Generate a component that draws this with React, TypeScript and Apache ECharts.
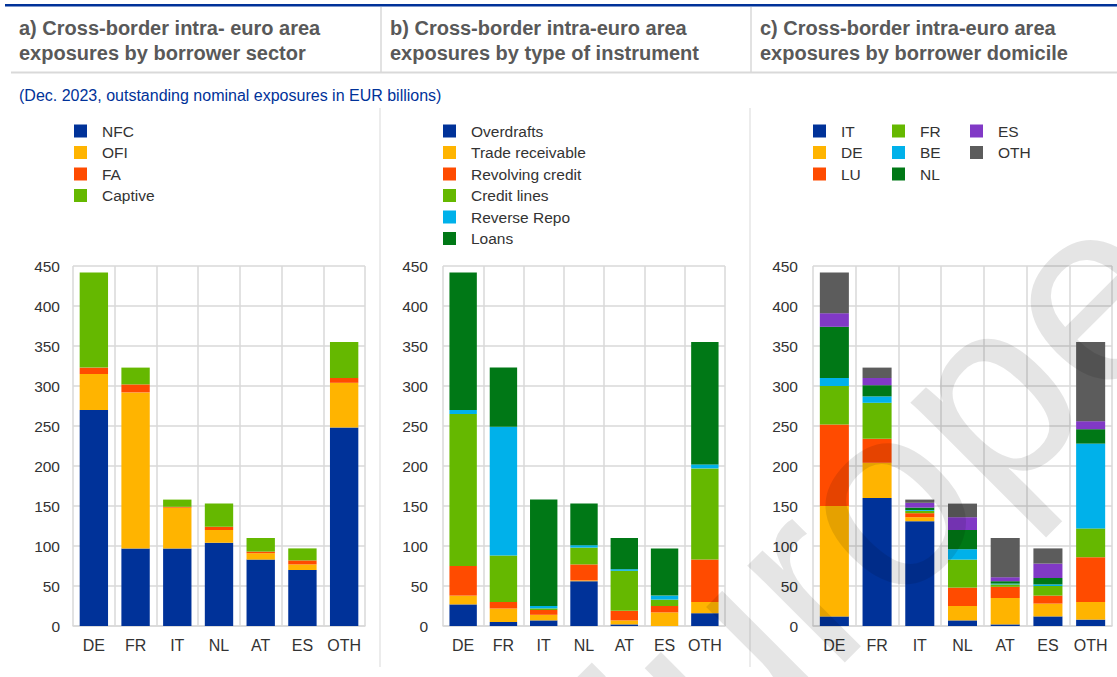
import React, { useEffect, useRef } from 'react';
import * as echarts from 'echarts';

// ---------- data ----------
const categories = ['DE', 'FR', 'IT', 'NL', 'AT', 'ES', 'OTH'];

// a) by borrower sector
const sectorNFC = [270, 97, 97, 104, 83, 70, 248];
const sectorOFI = [45, 195, 51, 16, 8, 7, 56];
const sectorFA = [8, 10, 1, 4, 2, 5, 6];
const sectorCaptive = [119, 21, 9, 29, 17, 15, 45];

// b) by type of instrument
const instOverdrafts = [27, 5, 7, 56, 2, 0, 16];
const instTradeReceivable = [11, 17, 7, 1, 5, 17, 14];
const instRevolving = [37, 8, 6, 20, 12, 8, 53];
const instCreditLines = [190, 58, 2, 21, 50, 8, 114];
const instReverseRepo = [5, 161, 3, 3, 2, 5, 5];
const instLoans = [172, 74, 133, 52, 39, 59, 153];

// c) by borrower domicile
const domIT = [12, 160, 131, 7, 2, 12, 8];
const domDE = [138, 44, 5, 18, 33, 16, 22];
const domLU = [102, 30, 5, 23, 14, 10, 56];
const domFR = [48, 45, 3, 35, 3, 12, 36];
const domBE = [10, 8, 1, 13, 1, 2, 106];
const domNL = [64, 14, 3, 24, 3, 8, 18];
const domES = [17, 9, 6, 16, 5, 18, 10];
const domOTH = [51, 13, 4, 17, 49, 19, 99];

const yMin = 0;
const yMax = 450;
const yStep = 50;

const titles = [
  ['a) Cross-border intra- euro area', 'exposures by borrower sector'],
  ['b) Cross-border intra-euro area', 'exposures by type of instrument'],
  ['c) Cross-border intra-euro area', 'exposures by borrower domicile'],
];
const subtitle = '(Dec. 2023, outstanding nominal exposures in EUR billions)';
const watermark = 'Europe';

// ---------- styles ----------
const FONT = '"Liberation Sans", Arial, Helvetica, sans-serif';
const C = {
  blue: '#003299',
  yellow: '#FFB400',
  red: '#FF4B00',
  lgreen: '#65B800',
  cyan: '#00B1EA',
  dgreen: '#007816',
  purple: '#8139C6',
  grey: '#5C5C5C',
};
const GRID_COLOR = '#d9d9d9';
const TEXT_COLOR = '#333333';

const panelA = [
  { name: 'NFC', data: sectorNFC, color: C.blue },
  { name: 'OFI', data: sectorOFI, color: C.yellow },
  { name: 'FA', data: sectorFA, color: C.red },
  { name: 'Captive', data: sectorCaptive, color: C.lgreen },
];
const panelB = [
  { name: 'Overdrafts', data: instOverdrafts, color: C.blue },
  { name: 'Trade receivable', data: instTradeReceivable, color: C.yellow },
  { name: 'Revolving credit', data: instRevolving, color: C.red },
  { name: 'Credit lines', data: instCreditLines, color: C.lgreen },
  { name: 'Reverse Repo', data: instReverseRepo, color: C.cyan },
  { name: 'Loans', data: instLoans, color: C.dgreen },
];
const panelC = [
  { name: 'IT', data: domIT, color: C.blue },
  { name: 'DE', data: domDE, color: C.yellow },
  { name: 'LU', data: domLU, color: C.red },
  { name: 'FR', data: domFR, color: C.lgreen },
  { name: 'BE', data: domBE, color: C.cyan },
  { name: 'NL', data: domNL, color: C.dgreen },
  { name: 'ES', data: domES, color: C.purple },
  { name: 'OTH', data: domOTH, color: C.grey },
];

const grids = [
  { left: 73, right: 1117 - 365, top: 266, bottom: 677 - 626 },
  { left: 443, right: 1117 - 725, top: 266, bottom: 677 - 626 },
  { left: 813, right: 1117 - 1112, top: 266, bottom: 677 - 626 },
];

function buildOption() {
  const panels = [panelA, panelB, panelC];
  const series: any[] = [];
  panels.forEach((p, idx) => {
    p.forEach((s) => {
      series.push({
        type: 'bar',
        name: s.name,
        data: s.data,
        stack: 'panel' + idx,
        xAxisIndex: idx,
        yAxisIndex: idx,
        barCategoryGap: '32%',
        itemStyle: { color: s.color },
        emphasis: { disabled: true },
      });
    });
  });

  const xAxis = grids.map((_, i) => ({
    type: 'category',
    gridIndex: i,
    data: categories,
    axisTick: { show: false },
    axisLine: { show: true, lineStyle: { color: GRID_COLOR, width: 1.5 } },
    splitLine: { show: true, lineStyle: { color: GRID_COLOR, width: 1.5 } },
    axisLabel: { color: TEXT_COLOR, fontSize: 16, fontFamily: FONT, margin: 11, interval: 0 },
  }));
  const yAxis = grids.map((_, i) => ({
    type: 'value',
    gridIndex: i,
    min: yMin,
    max: yMax,
    interval: yStep,
    axisLine: { show: false },
    axisTick: { show: false },
    splitLine: { show: true, lineStyle: { color: GRID_COLOR, width: 1.5 } },
    axisLabel: { color: TEXT_COLOR, fontSize: 15.5, fontFamily: FONT, margin: i === 0 ? 13 : 15 },
  }));

  const legendBase = {
    orient: 'vertical',
    top: 123,
    padding: 0,
    itemWidth: 13,
    itemHeight: 13,
    itemGap: 5.5,
    icon: 'rect',
    selectedMode: false,
    textStyle: { color: TEXT_COLOR, fontSize: 15.5, fontFamily: FONT, lineHeight: 16, padding: [0, 0, 0, 10] },
  };
  const legend = [
    { ...legendBase, left: 74, data: panelA.map((s) => s.name) },
    { ...legendBase, left: 443, data: panelB.map((s) => s.name) },
    { ...legendBase, left: 813, data: panelC.slice(0, 3).map((s) => s.name) },
    { ...legendBase, left: 892, data: panelC.slice(3, 6).map((s) => s.name) },
    { ...legendBase, left: 970, data: panelC.slice(6).map((s) => s.name) },
  ];

  const titleX = [19, 390, 760];
  const graphic: any[] = [
    { type: 'rect', shape: { x: 5, y: 4, width: 1112, height: 2.6 }, style: { fill: C.blue }, silent: true },
    { type: 'line', shape: { x1: 11, y1: 72.5, x2: 1117, y2: 72.5 }, style: { stroke: GRID_COLOR, lineWidth: 2 }, silent: true },
    { type: 'line', shape: { x1: 381, y1: 7, x2: 381, y2: 72 }, style: { stroke: GRID_COLOR, lineWidth: 1.5 }, silent: true },
    { type: 'line', shape: { x1: 751, y1: 7, x2: 751, y2: 72 }, style: { stroke: GRID_COLOR, lineWidth: 1.5 }, silent: true },
    { type: 'line', shape: { x1: 380, y1: 108, x2: 380, y2: 667 }, style: { stroke: GRID_COLOR, lineWidth: 1 }, silent: true },
    { type: 'line', shape: { x1: 750, y1: 108, x2: 750, y2: 667 }, style: { stroke: GRID_COLOR, lineWidth: 1 }, silent: true },
    {
      type: 'text',
      x: 19,
      y: 95,
      silent: true,
      style: { text: subtitle, fill: C.blue, font: `16px ${FONT}`, verticalAlign: 'middle', align: 'left' },
    },
  ];
  titles.forEach((t, i) => {
    t.forEach((line, j) => {
      graphic.push({
        type: 'text',
        x: titleX[i],
        y: 28 + j * 25,
        silent: true,
        style: { text: line, fill: '#595959', font: `bold 20px ${FONT}`, verticalAlign: 'middle', align: 'left' },
      });
    });
  });
  graphic.push({
    type: 'text',
    x: 840,
    y: 540,
    rotation: Math.PI / 4,
    silent: true,
    z: 100,
    style: {
      text: watermark,
      fill: 'rgba(0,0,0,0.1)',
      font: `260px ${FONT}`,
      align: 'center',
      verticalAlign: 'middle',
    },
  });

  return {
    animation: false,
    backgroundColor: '#ffffff',
    textStyle: { fontFamily: FONT },
    grid: grids,
    xAxis,
    yAxis,
    legend,
    series,
    graphic,
  };
}

export default function App() {
  const ref = useRef<HTMLDivElement | null>(null);
  useEffect(() => {
    document.body.style.margin = '0';
    if (!ref.current) return;
    const chart = echarts.init(ref.current, undefined, { renderer: 'svg' });
    chart.setOption(buildOption() as any);
    return () => chart.dispose();
  }, []);
  return <div ref={ref} style={{ width: 1117, height: 677, position: 'absolute', left: 0, top: 0 }} />;
}
